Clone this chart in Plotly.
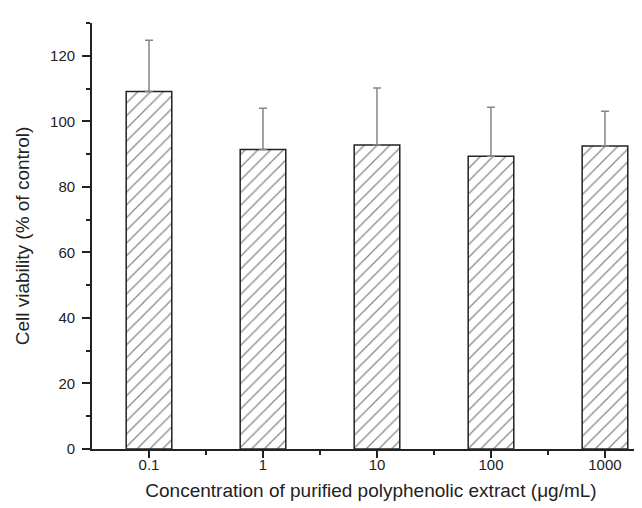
import plotly.graph_objects as go

categories = ["0.1", "1", "10", "100", "1000"]
viability = [109.1, 91.4, 92.8, 89.3, 92.5]
upper_sd = [15.6, 12.6, 17.4, 15.0, 10.6]
y_ticks = [0, 20, 40, 60, 80, 100, 120]

xpos = list(range(len(categories)))

fig = go.Figure()
fig.add_trace(go.Bar(
    x=xpos, y=viability, width=0.4,
    marker=dict(color="white", line=dict(color="#222", width=1.5),
                pattern=dict(shape="/", size=9, solidity=0.14, fgcolor="#111", bgcolor="white")),
    error_y=dict(type="data", array=upper_sd, symmetric=False, color="#858585",
                 thickness=1.5, width=4),
    showlegend=False,
))

font_family = "Liberation Sans, Arial, sans-serif"
fig.update_layout(
    width=642, height=508,
    margin=dict(l=84, r=0, t=15, b=67),
    paper_bgcolor="white", plot_bgcolor="white",
    font=dict(family=font_family, color="#222", size=15),
    xaxis=dict(
        range=[-0.5, 4.395], tickvals=xpos, ticktext=categories,
        showgrid=False, zeroline=False, showline=True, linecolor="#222", linewidth=1.8,
        ticks="outside", ticklen=7, tickwidth=1.5, tickcolor="#222",
        ticklabelstandoff=-6,
        minor=dict(tickvals=[0.5, 1.5, 2.5, 3.5], ticks="outside", ticklen=4, tickwidth=1.5, tickcolor="#222"),
        title=dict(text="Concentration of purified polyphenolic extract (μg/mL)", font=dict(size=19), standoff=12),
        tickfont=dict(size=15),
    ),
    yaxis=dict(
        range=[0, 130], tickvals=y_ticks,
        showgrid=False, zeroline=False, showline=True, linecolor="#222", linewidth=1.8,
        ticks="outside", ticklen=8, tickwidth=1.5, tickcolor="#222",
        ticklabelstandoff=4,
        minor=dict(dtick=10, tick0=0, ticks="outside", ticklen=4, tickwidth=1.5, tickcolor="#222"),
        title=dict(text="Cell viability (% of control)", font=dict(size=19), standoff=15),
        tickfont=dict(size=15),
    ),
)

fig.write_html("out.html")
